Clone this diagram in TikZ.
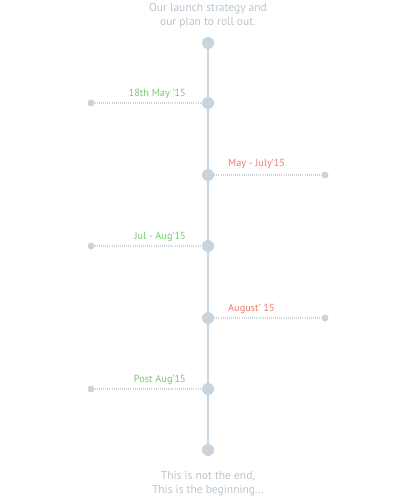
\documentclass[tikz,border=0pt]{standalone}
\usepackage{fontspec}
\setmainfont{PT Sans}
\definecolor{linec}{HTML}{C9D4DC}
\definecolor{greyt}{HTML}{B9C5CE}
\definecolor{greent}{HTML}{78C875}
\definecolor{redt}{HTML}{F07B6B}
\tikzset{
  bigdot/.style={circle,fill=linec,inner sep=0pt,minimum size=12pt},
  smalldot/.style={circle,fill=linec,inner sep=0pt,minimum size=7pt},
  dotline/.style={linec,line width=1.6pt,dash pattern=on 0.8pt off 1.3pt},
  vline/.style={linec,line width=2pt},
  headtext/.style={text=greyt,font=\fontsize{11.5}{14}\selectfont,align=center},
  glabel/.style={text=greent,font=\fontsize{10.3}{12}\selectfont,anchor=base east,inner sep=0pt},
  rlabel/.style={text=redt,font=\fontsize{10.3}{12}\selectfont,anchor=base west,inner sep=0pt}
}
\begin{document}
\begin{tikzpicture}[x=1pt,y=-1pt]
\useasboundingbox (0,0) rectangle (408,500);
\node[headtext] (top) at (208,16) {Our launch strategy and\\our plan to roll out.};
\node[headtext] (bot) at (208,484) {This is not the end,\\This is the beginning...};
\coordinate (p0) at (208,43);
\coordinate (p6) at (208,450);
\draw[vline] (p0) -- (p6);
\node[bigdot] (d0) at (208,43) {};
\node[bigdot] (d1) at (208,103) {};
\node[bigdot] (d2) at (208,175) {};
\node[bigdot] (d3) at (208,246) {};
\node[bigdot] (d4) at (208,318) {};
\node[bigdot] (d5) at (208,389) {};
\node[bigdot] (d6) at (208,450) {};
\node[smalldot] (s1) at (91,103) {};
\node[smalldot] (s2) at (325,175) {};
\node[smalldot] (s3) at (91,246) {};
\node[smalldot] (s4) at (325,318) {};
\node[smalldot] (s5) at (91,389) {};
\draw[dotline] (s1) -- (d1);
\draw[dotline] (d2) -- (s2);
\draw[dotline] (s3) -- (d3);
\draw[dotline] (d4) -- (s4);
\draw[dotline] (s5) -- (d5);
\node[glabel] (l1) at (186,96.5) {18th May '15};
\node[rlabel] (l2) at (228,166.5) {May - July'15};
\node[glabel] (l3) at (186,239) {Jul - Aug'15};
\node[rlabel] (l4) at (228,311) {August' 15};
\node[glabel] (l5) at (186,382) {Post Aug'15};
\end{tikzpicture}
\end{document}
